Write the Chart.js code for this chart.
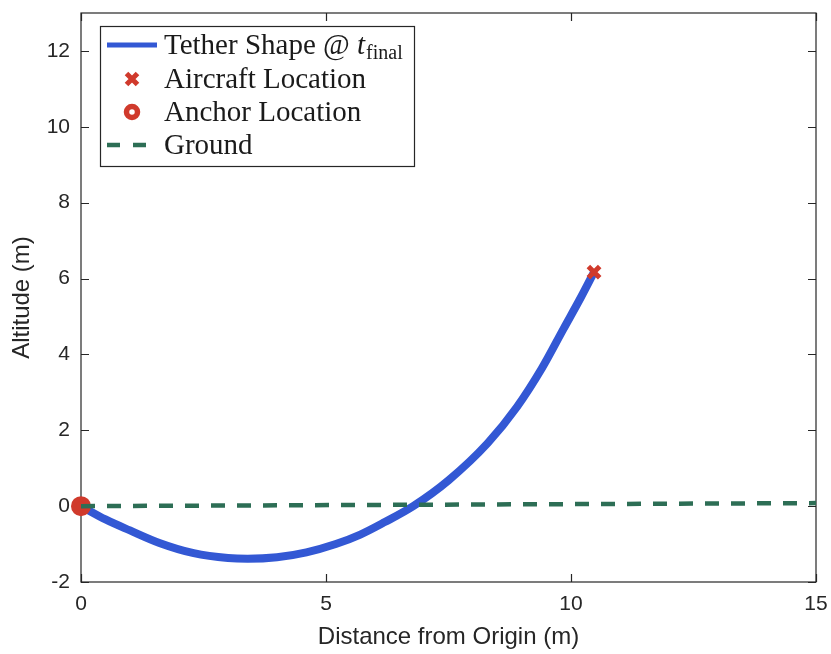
<!DOCTYPE html>
<html>
<head>
<meta charset="utf-8">
<script src="https://cdn.jsdelivr.net/npm/chart.js@4"></script>
<style>
  html, body { margin: 0; padding: 0; background: #fff; }
  #wrap { width: 831px; height: 654px; }
</style>
</head>
<body>
<div id="wrap"><canvas id="c" width="831" height="654"></canvas></div>
<script>
// Tether shape at final time (distance from origin, altitude), metres
const tetherX = [0, 0.5, 1.0, 1.6, 2.3, 3.0, 3.4, 4.0, 4.6, 5.2, 5.7, 6.2, 6.78, 7.5, 8.3, 8.9, 9.4, 9.85, 10.2, 10.47];
const tetherY = [0, -0.35, -0.64, -0.97, -1.24, -1.37, -1.39, -1.35, -1.22, -1.0, -0.75, -0.42, 0.0, 0.68, 1.66, 2.62, 3.62, 4.68, 5.5, 6.17];
const aircraftX = [10.47];
const aircraftY = [6.17];
const anchorX = [0];
const anchorY = [0];
const groundX = [0, 15];
const groundY = [0, 0.08];
const xTicks = [0, 5, 10, 15];
const yTicks = [-2, 0, 2, 4, 6, 8, 10, 12];

const BLUE = '#3358d4';
const RED = '#d03a2c';
const GREEN = '#2d6e55';
const INK = '#262626';

const pts = (xs, ys) => xs.map((x, i) => ({ x, y: ys[i] }));

// Box around the axes with inward tick marks on all four sides
const axesBox = {
  id: 'axesBox',
  beforeDatasetsDraw(chart) {
    const { ctx, chartArea: a, scales } = chart;
    ctx.save();
    ctx.strokeStyle = INK;
    ctx.lineWidth = 1.2;
    ctx.strokeRect(a.left, a.top, a.right - a.left, a.bottom - a.top);
    const L = 8;
    ctx.beginPath();
    yTicks.forEach(v => {
      const y = Math.round(scales.y.getPixelForValue(v)) + 0.5;
      ctx.moveTo(a.left, y); ctx.lineTo(a.left + L, y);
      ctx.moveTo(a.right, y); ctx.lineTo(a.right - L, y);
    });
    xTicks.forEach(v => {
      const x = Math.round(scales.x.getPixelForValue(v)) + 0.5;
      ctx.moveTo(x, a.bottom); ctx.lineTo(x, a.bottom - L);
      ctx.moveTo(x, a.top); ctx.lineTo(x, a.top + L);
    });
    ctx.stroke();
    ctx.restore();
  }
};

// Legend box with the series samples and the subscripted label
const legendBox = {
  id: 'legendBox',
  afterDraw(chart) {
    const { ctx } = chart;
    const bx = 100, by = 26, bw = 314, bh = 140;
    ctx.save();
    ctx.fillStyle = '#fff';
    ctx.fillRect(bx, by, bw, bh);
    ctx.strokeStyle = INK;
    ctx.lineWidth = 1.2;
    ctx.strokeRect(bx + 0.5, by + 0.5, bw, bh);

    const sx0 = 107, sx1 = 157, sc = 132, tx = 164;
    const rows = [45, 79, 112, 145];
    const fontMain = '29px "Liberation Serif", serif';

    // tether sample
    ctx.strokeStyle = BLUE; ctx.lineWidth = 5;
    ctx.beginPath(); ctx.moveTo(sx0, rows[0]); ctx.lineTo(sx1, rows[0]); ctx.stroke();
    // aircraft sample
    ctx.strokeStyle = RED; ctx.lineWidth = 5;
    const d = 5.5;
    ctx.beginPath();
    ctx.moveTo(sc - d, rows[1] - d); ctx.lineTo(sc + d, rows[1] + d);
    ctx.moveTo(sc + d, rows[1] - d); ctx.lineTo(sc - d, rows[1] + d);
    ctx.stroke();
    // anchor sample
    ctx.lineWidth = 5.5;
    ctx.beginPath(); ctx.arc(sc, rows[2], 5.5, 0, Math.PI * 2);
    ctx.fillStyle = '#fff'; ctx.fill(); ctx.stroke();
    // ground sample
    ctx.strokeStyle = GREEN; ctx.lineWidth = 4.5;
    ctx.setLineDash([13, 13]);
    ctx.beginPath(); ctx.moveTo(sx0, rows[3]); ctx.lineTo(sx1, rows[3]); ctx.stroke();
    ctx.setLineDash([]);

    ctx.fillStyle = '#1a1a1a';
    ctx.textBaseline = 'alphabetic';
    ctx.textAlign = 'left';
    const base = r => r + 9;
    ctx.font = fontMain;
    const head = 'Tether Shape @ ';
    ctx.fillText(head, tx, base(rows[0]));
    let x = tx + ctx.measureText(head).width;
    ctx.font = 'italic 29px "Liberation Serif", serif';
    ctx.fillText('t', x, base(rows[0]));
    x += ctx.measureText('t').width + 1;
    ctx.font = '20px "Liberation Serif", serif';
    ctx.fillText('final', x, base(rows[0]) + 5);
    ctx.font = fontMain;
    ctx.fillText('Aircraft Location', tx, base(rows[1]));
    ctx.fillText('Anchor Location', tx, base(rows[2]));
    ctx.fillText('Ground', tx, base(rows[3]));
    ctx.restore();
  }
};

const tickFont = { family: '"Liberation Sans", Arial, sans-serif', size: 21 };
const titleFont = { family: '"Liberation Sans", Arial, sans-serif', size: 24 };

new Chart(document.getElementById('c'), {
  type: 'scatter',
  data: {
    datasets: [
      {
        label: 'Ground',
        data: pts(groundX, groundY),
        showLine: true,
        borderColor: GREEN,
        borderWidth: 4.5,
        borderDash: [14, 12],
        pointRadius: 0,
        order: 0
      },
      {
        label: 'Anchor Location',
        data: pts(anchorX, anchorY),
        pointStyle: 'circle',
        pointRadius: 7.5,
        pointBorderWidth: 5,
        borderColor: RED,
        backgroundColor: RED,
        clip: false,
        order: 1
      },
      {
        label: 'Aircraft Location',
        data: pts(aircraftX, aircraftY),
        pointStyle: 'crossRot',
        pointRadius: 8,
        pointBorderWidth: 5,
        borderColor: RED,
        backgroundColor: RED,
        clip: false,
        order: 2
      },
      {
        label: 'Tether Shape',
        data: pts(tetherX, tetherY),
        showLine: true,
        borderColor: BLUE,
        borderWidth: 8,
        cubicInterpolationMode: 'monotone',
        pointRadius: 0,
        order: 3
      }
    ]
  },
  options: {
    responsive: false,
    devicePixelRatio: 1,
    animation: false,
    events: [],
    layout: { padding: { top: 5, right: 15, left: 0, bottom: 0 } },
    plugins: { legend: { display: false }, tooltip: { enabled: false } },
    scales: {
      x: {
        type: 'linear',
        min: 0, max: 15,
        afterBuildTicks: s => { s.ticks = xTicks.map(v => ({ value: v })); },
        afterFit: s => { s.height = 72; s.paddingLeft = 0; s.paddingRight = 0; },
        grid: { display: false, drawTicks: false },
        border: { display: false },
        ticks: { font: tickFont, color: INK, padding: 10, maxRotation: 0 },
        title: { display: true, text: 'Distance from Origin (m)', font: titleFont, color: INK, padding: { top: 0, bottom: 2 } }
      },
      y: {
        type: 'linear',
        min: -2, max: 13,
        afterBuildTicks: s => { s.ticks = yTicks.map(v => ({ value: v })); },
        afterFit: s => { s.width = 81; s.paddingTop = 0; s.paddingBottom = 0; },
        grid: { display: false, drawTicks: false },
        border: { display: false },
        ticks: { font: tickFont, color: INK, padding: 11 },
        title: { display: true, text: 'Altitude (m)', font: titleFont, color: INK, padding: { top: 8, bottom: 0 } }
      }
    }
  },
  plugins: [axesBox, legendBox]
});
</script>
</body>
</html>
